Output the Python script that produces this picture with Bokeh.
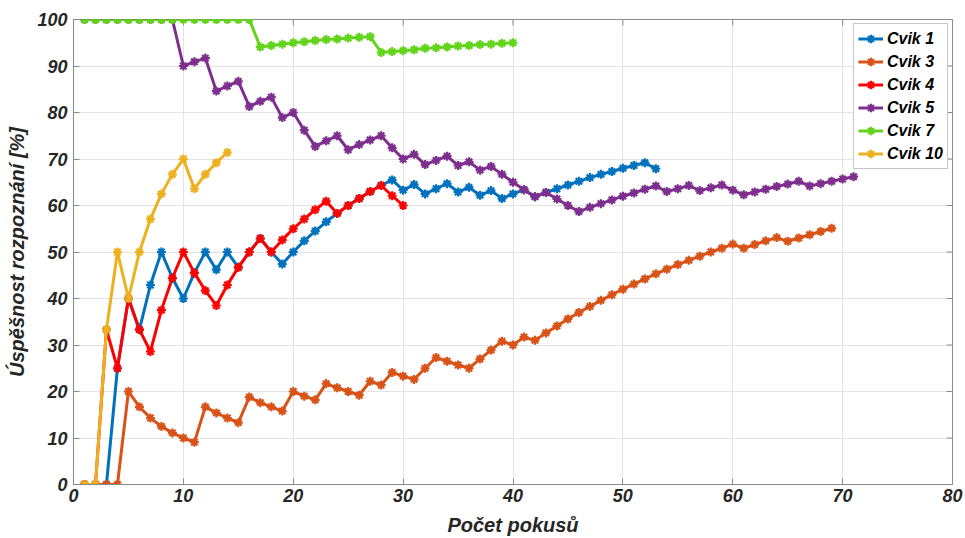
import math
from bokeh.plotting import figure
from bokeh.models import Range1d, FixedTicker, Legend, LegendItem
from bokeh.embed import file_html
from bokeh.resources import INLINE

# ---- data (success rate in % after n attempts) ----
cvik1 = [0, 0, 0, 25, 40, 33.3, 42.9, 50, 44.4, 40, 45.5, 50, 46.2, 50, 46.7, 50, 52.9, 50, 47.4, 50,
         52.4, 54.5, 56.5, 58.3, 60, 61.5, 63.0, 64.3, 65.5, 63.3, 64.5, 62.5, 63.6, 64.7, 62.9, 63.9,
         62.2, 63.2, 61.5, 62.5, 63.4, 61.9, 62.8, 63.6, 64.4, 65.2, 66.0, 66.7, 67.3, 68.0, 68.6, 69.2, 67.9]
cvik3 = [0, 0, 0, 0, 20, 16.7, 14.3, 12.5, 11.1, 10, 9.1, 16.7, 15.4, 14.3, 13.3, 18.8, 17.6, 16.7, 15.8, 20,
         19.0, 18.2, 21.7, 20.8, 20, 19.2, 22.2, 21.4, 24.1, 23.3, 22.6, 25.0, 27.3, 26.5, 25.7, 25.0,
         27.0, 28.9, 30.8, 30.0, 31.7, 31.0, 32.6, 34.1, 35.6, 37.0, 38.3, 39.6, 40.8, 42.0, 43.1, 44.2,
         45.3, 46.3, 47.3, 48.2, 49.1, 50.0, 50.8, 51.7, 50.8, 51.6, 52.4, 53.1, 52.3, 53.0, 53.7, 54.4, 55.1]
cvik4 = [0, 0, 33.3, 25, 40, 33.3, 28.6, 37.5, 44.4, 50, 45.5, 41.7, 38.5, 42.9, 46.7, 50, 52.9, 50, 52.6, 55,
         57.1, 59.1, 60.9, 58.3, 60, 61.5, 63.0, 64.3, 62.1, 60]
cvik5 = [100, 100, 100, 100, 100, 100, 100, 100, 100, 90, 90.9, 91.7, 84.6, 85.7, 86.7, 81.3, 82.4, 83.3, 78.9, 80,
         76.2, 72.7, 73.9, 75, 72, 73.1, 74.1, 75, 72.4, 70, 71.0, 68.8, 69.7, 70.6, 68.6, 69.4, 67.6, 68.4,
         66.7, 65.0, 63.4, 61.9, 62.8, 61.4, 60.0, 58.7, 59.6, 60.4, 61.2, 62.0, 62.7, 63.5, 64.2, 63.0, 63.6,
         64.3, 63.2, 63.8, 64.4, 63.3, 62.3, 62.9, 63.5, 64.1, 64.6, 65.2, 64.2, 64.7, 65.2, 65.7, 66.2]
cvik7 = [100, 100, 100, 100, 100, 100, 100, 100, 100, 100, 100, 100, 100, 100, 100, 100, 94.1, 94.4, 94.7, 95.0,
         95.2, 95.5, 95.7, 95.8, 96.0, 96.2, 96.3, 92.9, 93.1, 93.3, 93.5, 93.8, 93.9, 94.1, 94.3, 94.4,
         94.6, 94.7, 94.9, 95.0]
cvik10 = [0, 0, 33.3, 50, 40, 50, 57.1, 62.5, 66.7, 70, 63.6, 66.7, 69.2, 71.4]

series_names = ["Cvik 1", "Cvik 3", "Cvik 4", "Cvik 5", "Cvik 7", "Cvik 10"]
series_values = [cvik1, cvik3, cvik4, cvik5, cvik7, cvik10]
series_colors = ["#0072BD", "#D95319", "#FF0000", "#7E2F8E", "#62D41A", "#EDB120"]

x_ticks = [0, 10, 20, 30, 40, 50, 60, 70, 80]
y_ticks = [0, 10, 20, 30, 40, 50, 60, 70, 80, 90, 100]
X_MAX = 80
Y_MAX = 100

FONT = "Liberation Sans"
TXT = "#262626"
AX = "#8a8a8a"

p = figure(width=965, height=538, output_backend="svg", toolbar_location=None,
           x_range=Range1d(0, X_MAX), y_range=Range1d(0, Y_MAX),
           min_border_left=73, min_border_right=13, min_border_top=19, min_border_bottom=54,
           background_fill_color="white", border_fill_color="white")

p.outline_line_color = AX
p.outline_line_width = 1

for ax in (p.xaxis[0], p.yaxis[0]):
    ax.axis_line_color = AX
    ax.major_tick_line_color = AX
    ax.major_tick_in = 6
    ax.major_tick_out = 0
    ax.minor_tick_line_color = None
    ax.major_label_text_font = FONT
    ax.major_label_text_font_style = "bold italic"
    ax.major_label_text_font_size = "18px"
    ax.major_label_text_color = TXT
    ax.axis_label_text_font = FONT
    ax.axis_label_text_font_style = "bold italic"
    ax.axis_label_text_font_size = "20px"
    ax.axis_label_text_color = TXT

p.xaxis[0].ticker = FixedTicker(ticks=x_ticks)
p.yaxis[0].ticker = FixedTicker(ticks=y_ticks)
p.xaxis[0].axis_label = "Počet pokusů"
p.yaxis[0].axis_label = "Úspěšnost rozpoznání [%]"
p.xaxis[0].major_label_standoff = 4
p.xaxis[0].axis_label_standoff = 9
p.yaxis[0].major_label_standoff = 6
p.yaxis[0].axis_label_standoff = 6

p.xgrid.ticker = FixedTicker(ticks=x_ticks)
p.ygrid.ticker = FixedTicker(ticks=y_ticks)
p.grid.grid_line_color = "#e3e3e3"
p.grid.grid_line_width = 1

# inward ticks on the top and right edges of the box (clipped half of a dash marker)
p.scatter(x_ticks, [Y_MAX] * len(x_ticks), marker="dash", angle=math.pi / 2, size=12,
          line_color=AX, line_width=1)
p.scatter([X_MAX] * len(y_ticks), y_ticks, marker="dash", size=12, line_color=AX, line_width=1)

items = []
for name, vals, col in zip(series_names, series_values, series_colors):
    xs = list(range(1, len(vals) + 1))
    l = p.line(xs, vals, line_color=col, line_width=3)
    s = p.scatter(xs, vals, marker="asterisk", size=9, line_color=col, line_width=2.2)
    items.append(LegendItem(label=name, renderers=[l, s]))

legend = Legend(items=items, location="top_right")
legend.label_text_font = FONT
legend.label_text_font_style = "bold italic"
legend.label_text_font_size = "16px"
legend.label_text_color = "black"
legend.border_line_color = AX
legend.border_line_width = 1
legend.background_fill_color = "white"
legend.background_fill_alpha = 1
legend.glyph_width = 25
legend.glyph_height = 21
legend.label_height = 21
legend.label_standoff = 4
legend.spacing = 2
legend.padding = 4
legend.margin = 4
p.add_layout(legend)

open("out.html", "w").write(file_html(p, INLINE))
